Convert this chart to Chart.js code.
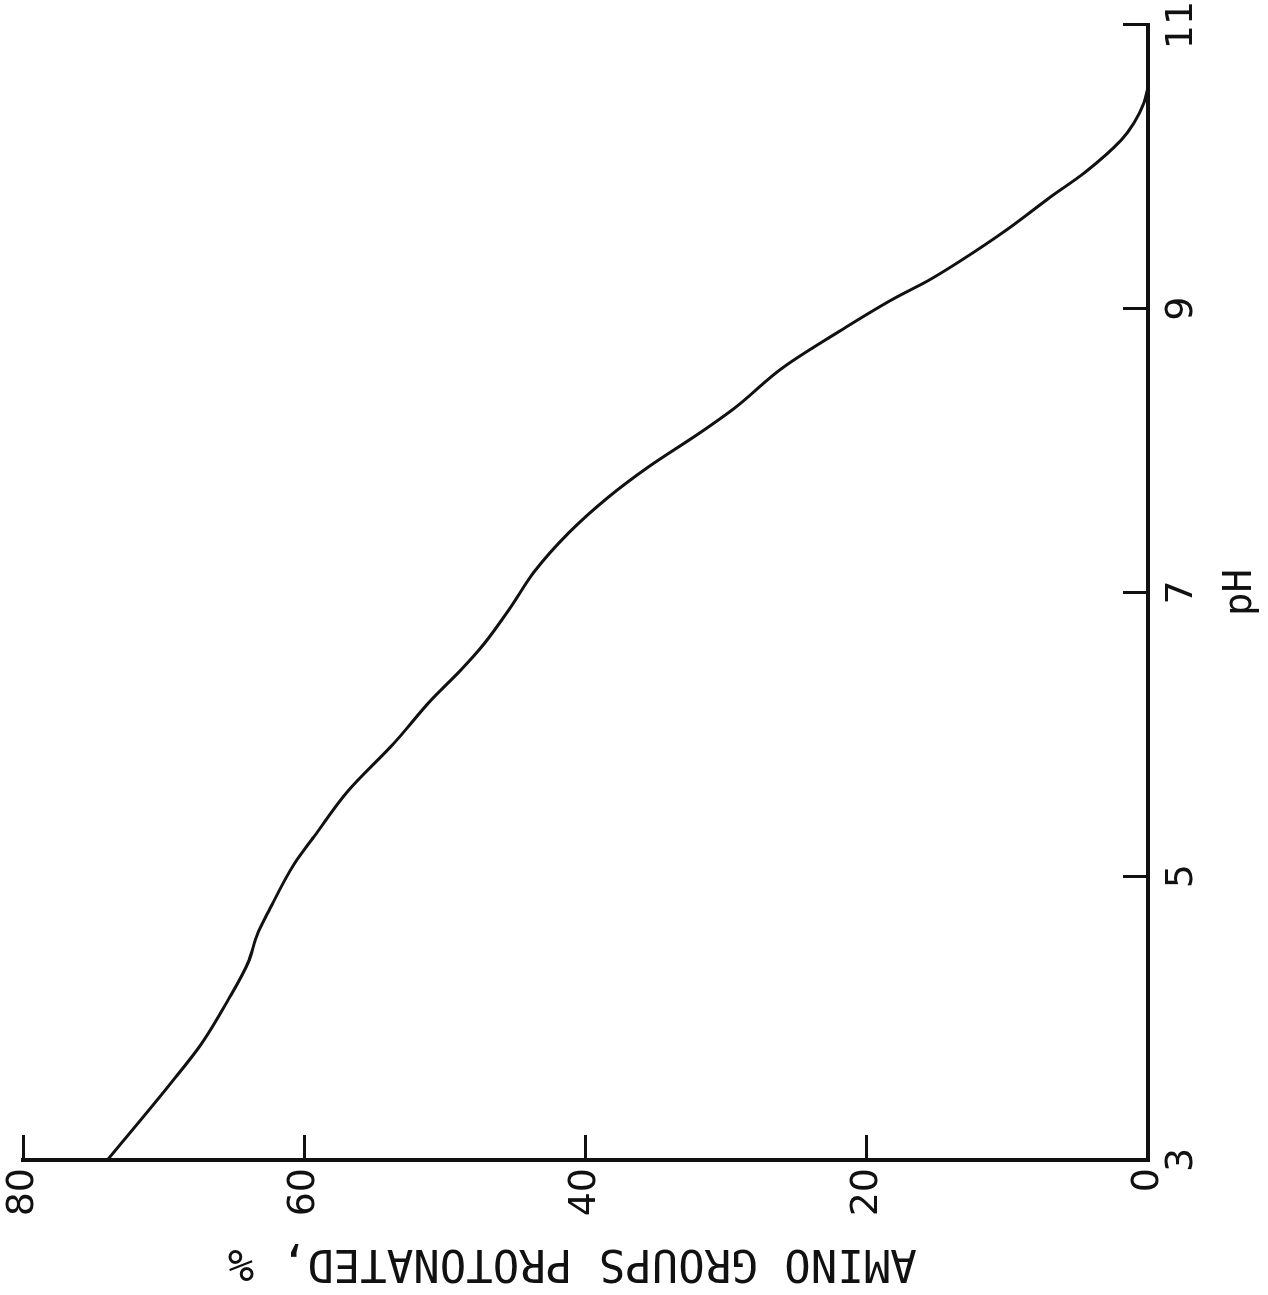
<!DOCTYPE html>
<html>
<head>
<meta charset="utf-8">
<script src="https://cdn.jsdelivr.net/npm/chart.js@4.4.0/dist/chart.umd.min.js"></script>
<style>
html,body{margin:0;padding:0;background:#fff;overflow:hidden}
/* chart is drawn upright, then turned a quarter turn left like the scanned page */
#wrap{position:absolute;left:0;top:0;width:1295px;height:1268px;transform-origin:0 0;transform:translateY(1295px) rotate(-90deg)}
</style>
</head>
<body>
<div id="wrap"><canvas id="c" width="1295" height="1268"></canvas></div>
<script>
// ── data ───────────────────────────────────────────────────
const phValues=[3.0,3.54,3.82,4.13,4.39,4.60,4.74,5.09,5.28,5.60,5.94,6.24,6.45,6.64,6.90,7.14,7.42,7.67,7.88,8.13,8.30,8.59,8.85,9.07,9.20,9.34,9.56,9.79,9.96,10.19,10.31,10.45,10.56];
const protonated=[74.0,69.5,67.3,65.4,64.0,63.3,62.6,60.7,59.3,56.9,53.6,51.0,48.9,47.2,45.3,43.7,41.2,38.4,35.6,31.8,29.4,25.9,21.8,18.1,15.6,13.3,10.0,6.9,4.5,1.9,1.0,0.3,0];
const phTicks=[3,5,7,9,11];
const pctTicks=[0,20,40,60,80];
const xTitle='pH';
const yTitle=' AMINO GROUPS PROTONATED, %';

const INK='#111';
const MONO='"DejaVu Sans Mono", monospace';
const SANS='"DejaVu Sans", sans-serif';

function noPad(s){s.paddingTop=0;s.paddingBottom=0;s.paddingLeft=0;s.paddingRight=0;}

new Chart(document.getElementById('c'),{
  type:'line',
  data:{datasets:[{
    data:phValues.map((p,i)=>({x:p,y:protonated[i]})),
    borderColor:INK,borderWidth:3,pointRadius:0,fill:false,
    cubicInterpolationMode:'monotone',clip:false
  }]},
  options:{
    responsive:false,animation:false,devicePixelRatio:1,
    layout:{padding:{top:23,right:25,left:0,bottom:0}},
    plugins:{legend:{display:false},tooltip:{enabled:false}},
    scales:{
      x:{type:'linear',position:'bottom',min:3,max:11,
        afterBuildTicks:s=>{s.ticks=phTicks.map(v=>({value:v}));},
        afterFit:s=>{s.height=120;noPad(s);},
        ticks:{color:INK,font:{family:SANS,size:38},padding:36,maxRotation:0,minRotation:0,autoSkip:false},
        grid:{drawOnChartArea:false,drawTicks:true,tickLength:-25,tickWidth:3,tickColor:INK},
        border:{display:true,width:4,color:INK},
        title:{display:true,text:xTitle,color:INK,font:{family:MONO,size:39},padding:{top:0,bottom:4}}
      },
      y:{type:'linear',position:'left',min:0,max:80,
        afterBuildTicks:s=>{s.ticks=pctTicks.map(v=>({value:v}));},
        afterFit:s=>{s.width=135;noPad(s);},
        ticks:{color:INK,font:{family:SANS,size:38},padding:33,autoSkip:false},
        grid:{drawOnChartArea:false,drawTicks:true,tickLength:-25,tickWidth:3,tickColor:INK},
        border:{display:true,width:4,color:INK},
        title:{display:true,text:yTitle,color:INK,font:{family:MONO,size:44},padding:{top:7,bottom:0}}
      }
    }
  }
});
</script>
</body>
</html>
